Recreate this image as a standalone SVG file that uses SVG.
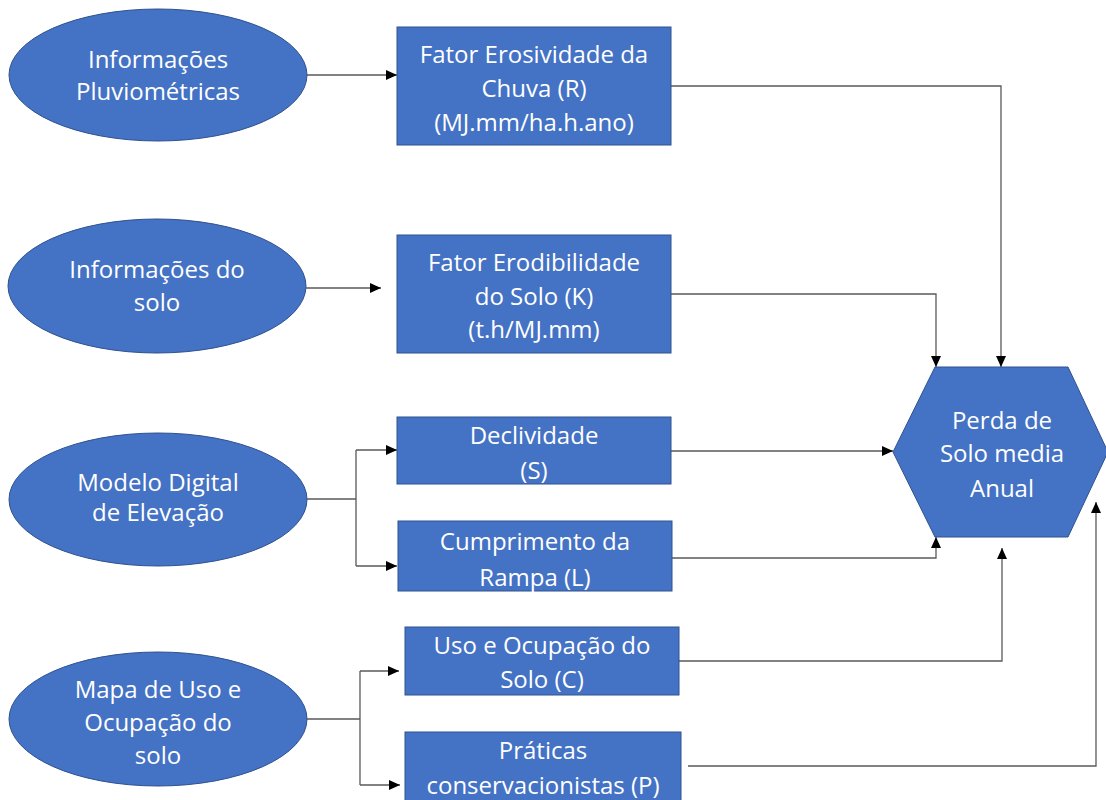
<svg xmlns="http://www.w3.org/2000/svg" width="1106" height="800" viewBox="0 0 1106 800">
<style>
.shape{fill:#4472C4;stroke:#2F528F;stroke-width:1}
.lbl{font-family:"Open Sans","Liberation Sans",sans-serif;font-size:24px;fill:#FFFFFF;text-anchor:middle}
.con{fill:none;stroke:#595959;stroke-width:1.3}
</style>
<defs>
<marker id="arr" markerUnits="userSpaceOnUse" markerWidth="12" markerHeight="10" refX="11" refY="5" orient="auto">
<path d="M0,0 L11,5 L0,10 Z" fill="#000000"/>
</marker>
</defs>
<rect x="0" y="0" width="1106" height="800" fill="#FFFFFF"/>

<g id="connectors">
<path class="con" d="M307,75 H397" marker-end="url(#arr)"/>
<path class="con" d="M306,288 H381" marker-end="url(#arr)"/>
<path class="con" d="M307,499 H356 M356,450 V566"/>
<path class="con" d="M356,450 H397" marker-end="url(#arr)"/>
<path class="con" d="M356,566 H397" marker-end="url(#arr)"/>
<path class="con" d="M307,719 H360 M360,671 V785"/>
<path class="con" d="M360,671 H399" marker-end="url(#arr)"/>
<path class="con" d="M360,785 H400" marker-end="url(#arr)"/>
<path class="con" d="M671,86 H1001 V367" marker-end="url(#arr)"/>
<path class="con" d="M671,294 H936 V367" marker-end="url(#arr)"/>
<path class="con" d="M671,451 H893" marker-end="url(#arr)"/>
<path class="con" d="M672,558 H936 V537" marker-end="url(#arr)"/>
<path class="con" d="M679,661 H1002 V548" marker-end="url(#arr)"/>
<path class="con" d="M688,766 H1096 V502" marker-end="url(#arr)"/>
</g>

<g id="n-pluvio">
<ellipse class="shape" cx="158" cy="75" rx="149" ry="66"/>
<text class="lbl" x="158" y="68">Informações</text>
<text class="lbl" x="158" y="100">Pluviométricas</text>
</g>
<g id="n-solo">
<ellipse class="shape" cx="157" cy="286" rx="149" ry="67"/>
<text class="lbl" x="157" y="278">Informações do</text>
<text class="lbl" x="157" y="311">solo</text>
</g>
<g id="n-mde">
<ellipse class="shape" cx="158" cy="499.5" rx="149" ry="66.5"/>
<text class="lbl" x="158" y="491">Modelo Digital</text>
<text class="lbl" x="158" y="521">de Elevação</text>
</g>
<g id="n-mapa">
<ellipse class="shape" cx="158" cy="719" rx="149" ry="67"/>
<text class="lbl" x="158" y="698">Mapa de Uso e</text>
<text class="lbl" x="158" y="731">Ocupação do</text>
<text class="lbl" x="158" y="764">solo</text>
</g>

<g id="n-r">
<rect class="shape" x="397" y="27" width="274" height="118"/>
<text class="lbl" x="534" y="63">Fator Erosividade da</text>
<text class="lbl" x="534" y="97">Chuva (R)</text>
<text class="lbl" x="534" y="131">(MJ.mm/ha.h.ano)</text>
</g>
<g id="n-k">
<rect class="shape" x="397" y="235" width="274" height="118"/>
<text class="lbl" x="534" y="271">Fator Erodibilidade</text>
<text class="lbl" x="534" y="305">do Solo (K)</text>
<text class="lbl" x="534" y="338">(t.h/MJ.mm)</text>
</g>
<g id="n-s">
<rect class="shape" x="397" y="417" width="274" height="67"/>
<text class="lbl" x="534" y="444">Declividade</text>
<text class="lbl" x="534" y="479">(S)</text>
</g>
<g id="n-l">
<rect class="shape" x="398" y="521" width="274" height="70"/>
<text class="lbl" x="535" y="550">Cumprimento da</text>
<text class="lbl" x="535" y="586">Rampa (L)</text>
</g>
<g id="n-c">
<rect class="shape" x="405" y="627" width="274" height="68"/>
<text class="lbl" x="542" y="654">Uso e Ocupação do</text>
<text class="lbl" x="542" y="688">Solo (C)</text>
</g>
<g id="n-p">
<rect class="shape" x="405" y="732" width="276" height="70"/>
<text class="lbl" x="543" y="759">Práticas</text>
<text class="lbl" x="543" y="794">conservacionistas (P)</text>
</g>
<g id="n-perda">
<polygon class="shape" points="935,367 1068,367 1108,452 1068,537 935,537 893,452"/>
<text class="lbl" x="1002" y="429">Perda de</text>
<text class="lbl" x="1002" y="462">Solo media</text>
<text class="lbl" x="1002" y="497">Anual</text>
</g>
</svg>
